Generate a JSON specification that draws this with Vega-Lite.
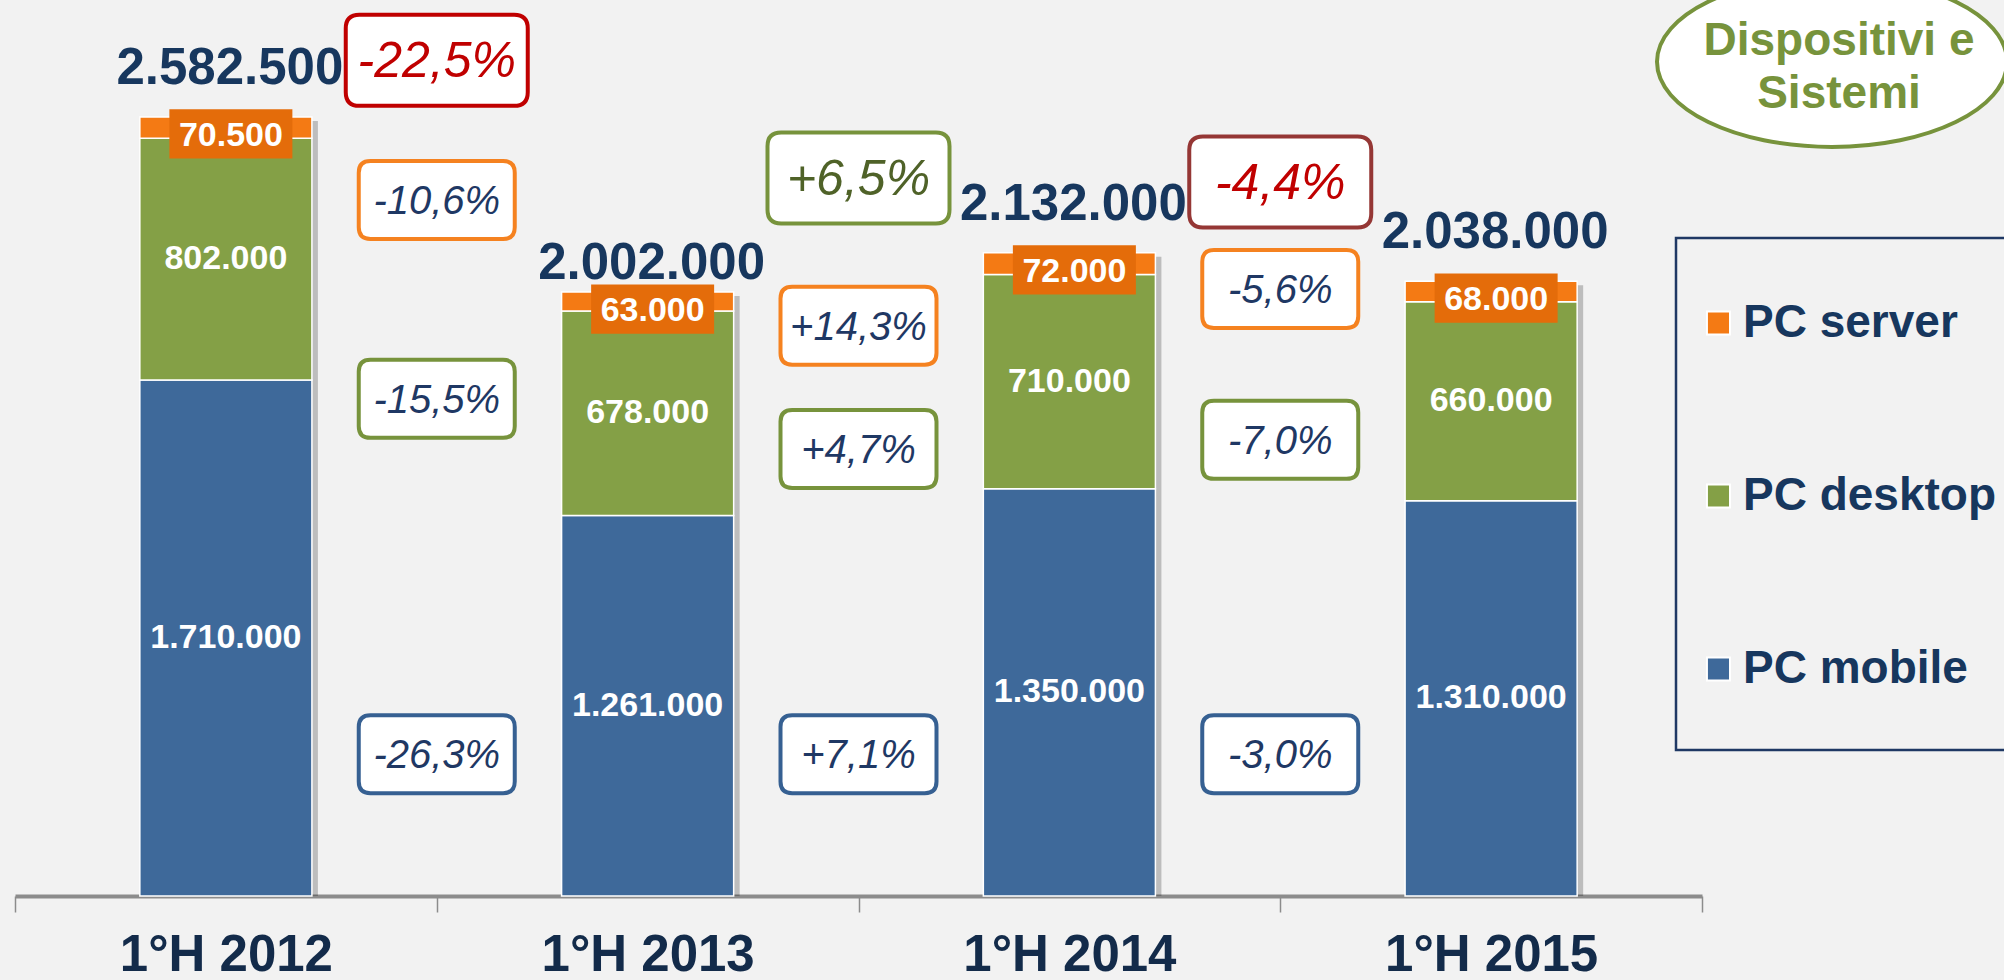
{
  "$schema": "https://vega.github.io/schema/vega-lite/v6.json",
  "autosize": {"type": "none"},
  "padding": {"left": 15, "top": 0, "right": 302, "bottom": 84},
  "width": 1687,
  "height": 896,
  "background": "#f2f2f2",
  "config": {
    "view": {"stroke": null},
    "font": "Liberation Sans",
    "locale": {"number": {"decimal": ",", "thousands": ".", "grouping": [3], "currency": ["", " €"]}},
    "legend": {"strokeWidth": 2.5}
  },
  "datasets": {
    "main": [
      {"year": "1°H 2012", "series": "PC mobile", "value": 1710000, "rank": 1},
      {"year": "1°H 2012", "series": "PC desktop", "value": 802000, "rank": 2},
      {"year": "1°H 2012", "series": "PC server", "value": 70500, "rank": 3},
      {"year": "1°H 2013", "series": "PC mobile", "value": 1261000, "rank": 1},
      {"year": "1°H 2013", "series": "PC desktop", "value": 678000, "rank": 2},
      {"year": "1°H 2013", "series": "PC server", "value": 63000, "rank": 3},
      {"year": "1°H 2014", "series": "PC mobile", "value": 1350000, "rank": 1},
      {"year": "1°H 2014", "series": "PC desktop", "value": 710000, "rank": 2},
      {"year": "1°H 2014", "series": "PC server", "value": 72000, "rank": 3},
      {"year": "1°H 2015", "series": "PC mobile", "value": 1310000, "rank": 1},
      {"year": "1°H 2015", "series": "PC desktop", "value": 660000, "rank": 2},
      {"year": "1°H 2015", "series": "PC server", "value": 68000, "rank": 3}
    ],
    "ann": [
      {"year": "1°H 2012", "series": "Totale", "label": "-22,5%", "pos": 2770000},
      {"year": "1°H 2012", "series": "PC server", "label": "-10,6%", "pos": 2307000},
      {"year": "1°H 2012", "series": "PC desktop", "label": "-15,5%", "pos": 1648000},
      {"year": "1°H 2012", "series": "PC mobile", "label": "-26,3%", "pos": 470000},
      {"year": "1°H 2013", "series": "Totale", "label": "+6,5%", "pos": 2380000},
      {"year": "1°H 2013", "series": "PC server", "label": "+14,3%", "pos": 1890000},
      {"year": "1°H 2013", "series": "PC desktop", "label": "+4,7%", "pos": 1482000},
      {"year": "1°H 2013", "series": "PC mobile", "label": "+7,1%", "pos": 470000},
      {"year": "1°H 2014", "series": "Totale", "label": "-4,4%", "pos": 2367000},
      {"year": "1°H 2014", "series": "PC server", "label": "-5,6%", "pos": 2012000},
      {"year": "1°H 2014", "series": "PC desktop", "label": "-7,0%", "pos": 1512000},
      {"year": "1°H 2014", "series": "PC mobile", "label": "-3,0%", "pos": 470000}
    ],
    "badge": [
      {"year": "1°H 2015", "label": "Dispositivi e\nSistemi"}
    ]
  },
  "layer": [
    {
      "data": {"name": "main"},
      "mark": {"type": "bar", "width": {"band": 0.408}, "color": "#000000", "opacity": 0.22, "xOffset": 6, "yOffset": 4, "y2Offset": 6},
      "encoding": {
        "x": {"field": "year", "type": "nominal",
          "scale": {"domain": ["1°H 2012", "1°H 2013", "1°H 2014", "1°H 2015"], "paddingInner": 0, "paddingOuter": 0},
          "axis": {"title": null, "tickBand": "extent", "domainColor": "#8C8C8C", "domainWidth": 4, "tickColor": "#8C8C8C", "tickWidth": 1.5, "tickSize": 16,
            "labelFont": "Liberation Sans", "labelFontSize": 51, "labelFontWeight": "bold", "labelColor": "#132B4A", "labelPadding": 18, "labelAngle": 0, "labelLimit": 400, "grid": false}},
        "y": {"aggregate": "sum", "field": "value", "type": "quantitative", "scale": {"domain": [0, 2970000], "nice": false, "zero": true}, "axis": null}
      }
    },
    {
      "data": {"name": "main"},
      "transform": [{"stack": "value", "groupby": ["year"], "sort": [{"field": "rank", "order": "ascending"}], "as": ["v0", "v1"]}],
      "mark": {"type": "bar", "width": {"band": 0.408}, "stroke": "white", "strokeWidth": 1.5},
      "encoding": {
        "x": {"field": "year", "type": "nominal", "scale": {"domain": ["1°H 2012", "1°H 2013", "1°H 2014", "1°H 2015"], "paddingInner": 0, "paddingOuter": 0}},
        "y": {"field": "v1", "type": "quantitative", "scale": {"domain": [0, 2970000], "nice": false, "zero": true}, "axis": null},
        "y2": {"field": "v0"},
        "color": {"field": "series", "type": "nominal",
          "scale": {"domain": ["PC mobile", "PC desktop", "PC server"], "range": ["#3E699A", "#84A046", "#F47A14"]},
          "legend": {"title": null, "orient": "none", "legendX": 1661, "legendY": 238, "direction": "vertical",
            "values": ["PC server", "PC desktop", "PC mobile"],
            "symbolType": "M-1.02,-0.217L-0.585,-0.217L-0.585,0.217L-1.02,0.217ZM-0.8,0.85",
            "symbolSize": 11236, "symbolStrokeColor": "white", "symbolStrokeWidth": 2, "symbolOpacity": 1,
            "labelFont": "Liberation Sans", "labelFontSize": 46, "labelFontWeight": "bold", "labelColor": "#17375E",
            "labelLimit": 500, "labelOffset": -72, "rowPadding": 69, "padding": 31, "strokeColor": "#1F3864"}}
      }
    },
    {
      "data": {"name": "main"},
      "transform": [
        {"stack": "value", "groupby": ["year"], "sort": [{"field": "rank", "order": "ascending"}], "as": ["v0", "v1"]},
        {"filter": "datum.series !== 'PC server'"},
        {"fold": ["v0", "v1"], "as": ["k", "p"]},
        {"aggregate": [{"op": "mean", "field": "p", "as": "mid"}], "groupby": ["year", "series", "value"]}
      ],
      "mark": {"type": "text", "font": "Liberation Sans", "fontWeight": "bold", "fontSize": 34, "color": "white", "baseline": "middle"},
      "encoding": {
        "x": {"field": "year", "type": "nominal", "scale": {"domain": ["1°H 2012", "1°H 2013", "1°H 2014", "1°H 2015"], "paddingInner": 0, "paddingOuter": 0}},
        "y": {"field": "mid", "type": "quantitative", "scale": {"domain": [0, 2970000], "nice": false, "zero": true}, "axis": null},
        "text": {"field": "value", "type": "quantitative", "format": ",d"}
      }
    },
    {
      "data": {"name": "main"},
      "transform": [
        {"stack": "value", "groupby": ["year"], "sort": [{"field": "rank", "order": "ascending"}], "as": ["v0", "v1"]},
        {"filter": "datum.series === 'PC server'"}
      ],
      "mark": {"type": "point", "shape": "M-1,-0.4L1,-0.4L1,0.4L-1,0.4Z", "filled": true, "fill": "#E46C0A", "opacity": 1, "size": 15129, "strokeWidth": 0, "xOffset": 5, "yOffset": 17},
      "encoding": {
        "x": {"field": "year", "type": "nominal", "scale": {"domain": ["1°H 2012", "1°H 2013", "1°H 2014", "1°H 2015"], "paddingInner": 0, "paddingOuter": 0}},
        "y": {"field": "v1", "type": "quantitative", "scale": {"domain": [0, 2970000], "nice": false, "zero": true}, "axis": null}
      }
    },
    {
      "data": {"name": "main"},
      "transform": [
        {"stack": "value", "groupby": ["year"], "sort": [{"field": "rank", "order": "ascending"}], "as": ["v0", "v1"]},
        {"filter": "datum.series === 'PC server'"}
      ],
      "mark": {"type": "text", "font": "Liberation Sans", "fontWeight": "bold", "fontSize": 34, "color": "white", "baseline": "middle", "xOffset": 5, "yOffset": 19},
      "encoding": {
        "x": {"field": "year", "type": "nominal", "scale": {"domain": ["1°H 2012", "1°H 2013", "1°H 2014", "1°H 2015"], "paddingInner": 0, "paddingOuter": 0}},
        "y": {"field": "v1", "type": "quantitative", "scale": {"domain": [0, 2970000], "nice": false, "zero": true}, "axis": null},
        "text": {"field": "value", "type": "quantitative", "format": ",d"}
      }
    },
    {
      "data": {"name": "main"},
      "transform": [
        {"aggregate": [{"op": "sum", "field": "value", "as": "total"}], "groupby": ["year"]},
        {"filter": "datum.year !== '1°H 2013'"}
      ],
      "mark": {"type": "text", "font": "Liberation Sans", "fontWeight": "bold", "fontSize": 51, "color": "#17375E", "baseline": "alphabetic", "dy": -33, "dx": 4},
      "encoding": {
        "x": {"field": "year", "type": "nominal", "scale": {"domain": ["1°H 2012", "1°H 2013", "1°H 2014", "1°H 2015"], "paddingInner": 0, "paddingOuter": 0}},
        "y": {"field": "total", "type": "quantitative", "scale": {"domain": [0, 2970000], "nice": false, "zero": true}, "axis": null},
        "text": {"field": "total", "type": "quantitative", "format": ",d"}
      }
    },
    {
      "data": {"name": "main"},
      "transform": [
        {"aggregate": [{"op": "sum", "field": "value", "as": "total"}], "groupby": ["year"]},
        {"filter": "datum.year === '1°H 2013'"}
      ],
      "mark": {"type": "text", "font": "Liberation Sans", "fontWeight": "bold", "fontSize": 51, "color": "#17375E", "baseline": "alphabetic", "dy": -13, "dx": 4},
      "encoding": {
        "x": {"field": "year", "type": "nominal", "scale": {"domain": ["1°H 2012", "1°H 2013", "1°H 2014", "1°H 2015"], "paddingInner": 0, "paddingOuter": 0}},
        "y": {"field": "total", "type": "quantitative", "scale": {"domain": [0, 2970000], "nice": false, "zero": true}, "axis": null},
        "text": {"field": "total", "type": "quantitative", "format": ",d"}
      }
    },
    {
      "data": {"name": "ann"},
      "mark": {"type": "point", "shape": "M-0.85,-0.5L0.85,-0.5Q1,-0.5,1,-0.35L1,0.35Q1,0.5,0.85,0.5L-0.85,0.5Q-1,0.5,-1,0.35L-1,-0.35Q-1,-0.5,-0.85,-0.5Z", "filled": true, "fill": "white", "opacity": 1, "strokeWidth": 4},
      "encoding": {
        "x": {"field": "year", "type": "nominal", "bandPosition": 1, "scale": {"domain": ["1°H 2012", "1°H 2013", "1°H 2014", "1°H 2015"], "paddingInner": 0, "paddingOuter": 0}},
        "y": {"field": "pos", "type": "quantitative", "scale": {"domain": [0, 2970000], "nice": false, "zero": true}, "axis": null},
        "stroke": {"condition": [{"test": "datum.label === '-4,4%'", "value": "#953735"}, {"test": "datum.label === '+6,5%'", "value": "#77933C"}],
          "field": "series", "type": "nominal", "legend": null,
          "scale": {"domain": ["Totale", "PC server", "PC desktop", "PC mobile"], "range": ["#C00000", "#F58220", "#77933C", "#366092"]}},
        "size": {"condition": {"test": "datum.series === 'Totale'", "value": 33124}, "value": 24336}
      }
    },
    {
      "data": {"name": "ann"},
      "mark": {"type": "text", "font": "Liberation Sans", "fontStyle": "italic", "fontWeight": "normal", "baseline": "middle", "yOffset": 2},
      "encoding": {
        "x": {"field": "year", "type": "nominal", "bandPosition": 1, "scale": {"domain": ["1°H 2012", "1°H 2013", "1°H 2014", "1°H 2015"], "paddingInner": 0, "paddingOuter": 0}},
        "y": {"field": "pos", "type": "quantitative", "scale": {"domain": [0, 2970000], "nice": false, "zero": true}, "axis": null},
        "text": {"field": "label", "type": "nominal"},
        "color": {"condition": [{"test": "datum.label === '+6,5%'", "value": "#4F6228"}, {"test": "datum.series === 'Totale'", "value": "#C00000"}], "value": "#1F3864"},
        "size": {"condition": {"test": "datum.series === 'Totale'", "value": 50}, "value": 40}
      }
    },
    {
      "data": {"name": "badge"},
      "mark": {"type": "point", "shape": "M-1,0C-1,-0.2684,-0.5523,-0.486,0,-0.486C0.5523,-0.486,1,-0.2684,1,0C1,0.2684,0.5523,0.486,0,0.486C-0.5523,0.486,-1,0.2684,-1,0Z", "filled": true, "fill": "white", "stroke": "#77933C", "strokeWidth": 4, "opacity": 1, "size": 122500, "xOffset": 130},
      "encoding": {
        "x": {"field": "year", "type": "nominal", "bandPosition": 1, "scale": {"domain": ["1°H 2012", "1°H 2013", "1°H 2014", "1°H 2015"], "paddingInner": 0, "paddingOuter": 0}},
        "y": {"datum": 2765000, "type": "quantitative", "scale": {"domain": [0, 2970000], "nice": false, "zero": true}, "axis": null}
      }
    },
    {
      "data": {"name": "badge"},
      "mark": {"type": "text", "font": "Liberation Sans", "fontWeight": "bold", "fontSize": 46, "color": "#77933C", "baseline": "middle", "lineBreak": "\n", "lineHeight": 53, "xOffset": 137, "yOffset": -21},
      "encoding": {
        "x": {"field": "year", "type": "nominal", "bandPosition": 1, "scale": {"domain": ["1°H 2012", "1°H 2013", "1°H 2014", "1°H 2015"], "paddingInner": 0, "paddingOuter": 0}},
        "y": {"datum": 2765000, "type": "quantitative", "scale": {"domain": [0, 2970000], "nice": false, "zero": true}, "axis": null},
        "text": {"field": "label", "type": "nominal"}
      }
    }
  ]
}
